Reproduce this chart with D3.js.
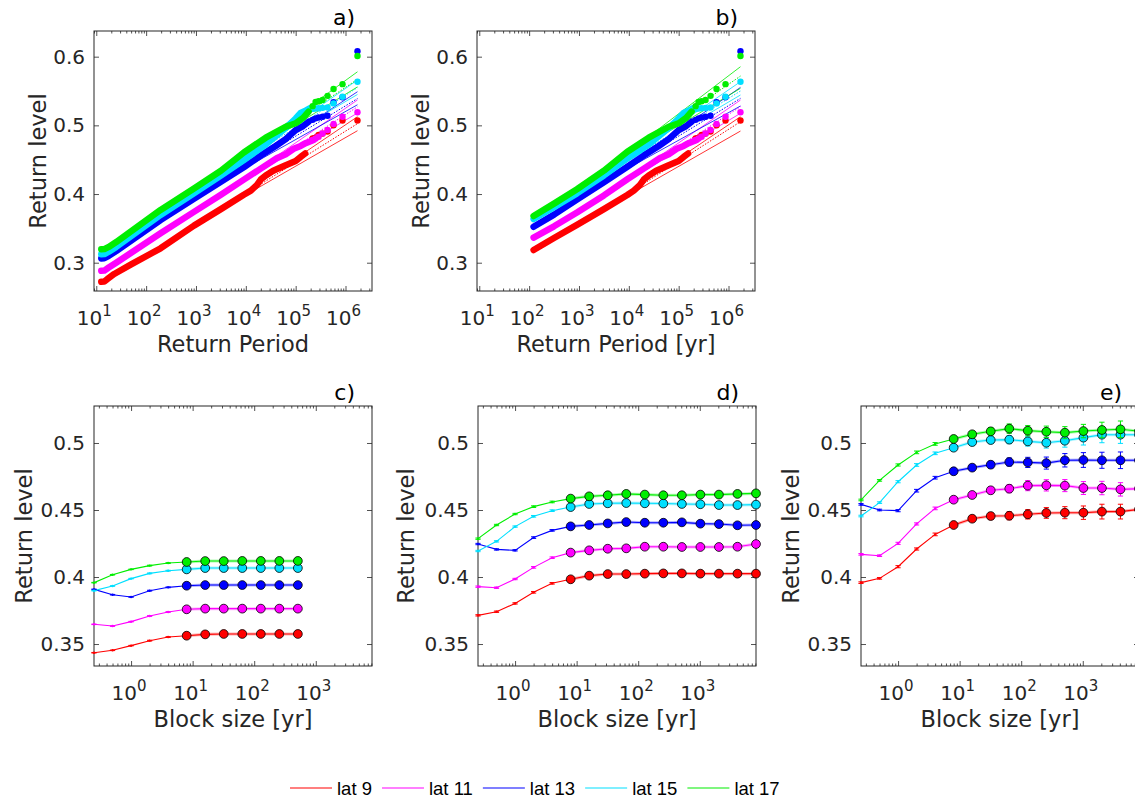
<!DOCTYPE html>
<html><head><meta charset="utf-8">
<script src="https://cdn.jsdelivr.net/npm/d3@7"></script>
<style>body{margin:0;background:#fff}svg{display:block}</style>
</head><body>
<svg id="fig" width="1135" height="798"></svg>
<script>
// ---------------- DATA ----------------
const seriesNames = ["lat 9", "lat 11", "lat 13", "lat 15", "lat 17"];
const seriesColors = ["#ff0000", "#ff00ff", "#0000ff", "#00dfff", "#00ee00"];

// Panel a: dense empirical return levels (return period, level)
const periodsA9  = [12.6,14.5,16.6,22.9,50.1,195,912,3162,9120,12590,16600,19950,25120,35480,63100,100000,125900,154900];
const levelsA9   = [0.2723,0.2725,0.2760,0.2836,0.2975,0.3210,0.3540,0.3780,0.3990,0.4050,0.4130,0.4210,0.4270,0.4340,0.4420,0.4480,0.4540,0.4590];
const periodsA11 = [12.6,14.5,17.8,25.1,195,912,3162,9120,19950,41690,63100,91200,125900,158500,229100];
const levelsA11  = [0.2883,0.2885,0.2930,0.3000,0.3428,0.3740,0.3990,0.4210,0.4370,0.4520,0.4580,0.4660,0.4700,0.4740,0.4786];
const periodsA13 = [12.6,14.5,17.8,25.1,195,912,3162,9120,19950,39810,63100,100000,141250,182000];
const levelsA13  = [0.3063,0.3065,0.3100,0.3170,0.3622,0.3930,0.4180,0.4390,0.4560,0.4700,0.4800,0.4930,0.4990,0.5053];
const periodsA15 = [12.6,14.5,17.8,25.1,195,912,3162,9120,25120,63100,100000,125900,158500,195000];
const levelsA15  = [0.3122,0.3125,0.3160,0.3230,0.3695,0.4010,0.4270,0.4496,0.4720,0.4960,0.5100,0.5180,0.5215,0.5250];
const periodsA17 = [12.6,14.5,17.8,25.1,195,912,3162,9120,25120,63100,100000,141250,182000];
const levelsA17  = [0.3195,0.3198,0.3230,0.3300,0.3768,0.4080,0.4340,0.4605,0.4820,0.4980,0.5030,0.5110,0.5200];

// Panel b: dense empirical return levels
const periodsB9  = [123,316,912,3162,9333,12590,16600,19950,25120,35480,63100,100000,125900,154900];
const levelsB9   = [0.3185,0.3360,0.3550,0.3780,0.3986,0.4050,0.4130,0.4210,0.4270,0.4340,0.4420,0.4480,0.4540,0.4590];
const periodsB11 = [123,316,912,3162,9333,19950,41690,63100,91200,125900,158500,229100];
const levelsB11  = [0.3364,0.3530,0.3730,0.3980,0.4215,0.4370,0.4520,0.4580,0.4660,0.4700,0.4740,0.4786];
const periodsB13 = [123,316,912,3162,9333,19950,39810,63100,100000,141250,182000];
const levelsB13  = [0.3524,0.3700,0.3920,0.4170,0.4398,0.4560,0.4700,0.4800,0.4930,0.4990,0.5053];
const periodsB15 = [123,316,912,3162,9333,25120,63100,100000,125900,158500,195000];
const levelsB15  = [0.3636,0.3810,0.4010,0.4270,0.4520,0.4720,0.4960,0.5100,0.5180,0.5215,0.5250];
const periodsB17 = [123,316,912,3162,9333,25120,63100,100000,141250,182000];
const levelsB17  = [0.3680,0.3860,0.4070,0.4340,0.4617,0.4820,0.4980,0.5030,0.5110,0.5200];

// Largest events (sparse tail), same in a and b
const tailPeriods = [1738000,871000,575400,436500,346700,288400,251200,218800];
const tailLat9  = [0.507,0.507,0.500,0.491,0.488,0.486,0.482,0.481];
const tailLat11 = [0.519,0.5126,0.502,0.4932,0.4883,0.4835,0.481,0.4786];
const tailLat13 = [0.608,0.541,0.5336,0.514,0.5126,0.5115,0.5102,0.508];
const tailLat15 = [0.5636,0.5417,0.532,0.526,0.5255,0.525,0.5245,0.524];
const tailLat17 = [0.601,0.560,0.553,0.543,0.537,0.535,0.534,0.528];

// Fitted return level lines [upper, central, lower]
const fitPeriods = [3162, 1738000];
const fitStart = [0.378, 0.399, 0.418, 0.427, 0.434];
const fitEndA9  = [0.5126,0.5025,0.4922];
const fitEndA11 = [0.5370,0.5270,0.5180];
const fitEndA13 = [0.5490,0.5390,0.5300];
const fitEndA15 = [0.5660,0.5550,0.5450];
const fitEndA17 = [0.5780,0.5670,0.5560];
const fitEndB9  = [0.5126,0.5053,0.4917];
const fitEndB11 = [0.5369,0.5272,0.5175];
const fitEndB13 = [0.5553,0.5393,0.5282];
const fitEndB15 = [0.5636,0.5500,0.5442];
const fitEndB17 = [0.5854,0.5718,0.5539];

// Panels c, d, e: return level vs block size
const blockSizes = [0.25,0.5,1,2,4,8,16,32,64,128,256,512,1024,2048,4096,8192];
const cLat9  = [0.3435,0.3453,0.3488,0.3525,0.3552,0.3562,0.3572,0.3575,0.3575,0.3575,0.3575,0.3575];
const cLat11 = [0.3647,0.3634,0.3667,0.3709,0.3739,0.3759,0.3764,0.3764,0.3764,0.3764,0.3764,0.3764];
const cLat13 = [0.3908,0.3868,0.3851,0.3898,0.3923,0.3935,0.3940,0.3940,0.3940,0.3940,0.3940,0.3940];
const cLat15 = [0.3898,0.3933,0.3988,0.4027,0.4047,0.4057,0.4067,0.4067,0.4067,0.4067,0.4067,0.4067];
const cLat17 = [0.3958,0.4017,0.4057,0.4085,0.4104,0.4112,0.4119,0.4119,0.4120,0.4120,0.4120,0.4120];
const cErr   = [0.0002,0.0002,0.0002,0.0003,0.0003,0.0003,0.0003,0.0003,0.0004,0.0004,0.0004,0.0004];

const dLat9  = [0.3714,0.3741,0.3803,0.3886,0.3953,0.3983,0.4010,0.4022,0.4022,0.4025,0.4027,0.4027,0.4025,0.4025,0.4025,0.4025];
const dLat11 = [0.3928,0.3920,0.3985,0.4072,0.4144,0.4182,0.4199,0.4211,0.4214,0.4226,0.4226,0.4224,0.4224,0.4224,0.4226,0.4246];
const dLat13 = [0.4246,0.4206,0.4199,0.4294,0.4348,0.4378,0.4388,0.4400,0.4410,0.4405,0.4405,0.4408,0.4398,0.4395,0.4386,0.4388];
const dLat15 = [0.4194,0.4266,0.4376,0.4453,0.4495,0.4522,0.4545,0.4550,0.4552,0.4550,0.4548,0.4545,0.4543,0.4537,0.4537,0.4540];
const dLat17 = [0.4286,0.4388,0.4470,0.4525,0.4560,0.4585,0.4602,0.4610,0.4620,0.4615,0.4610,0.4610,0.4615,0.4615,0.4620,0.4624];
const dErr   = [0.0005,0.0005,0.0005,0.0006,0.0006,0.0007,0.0008,0.0009,0.0010,0.0011,0.0012,0.0013,0.0014,0.0015,0.0016,0.0017];

const eLat9  = [0.3958,0.3990,0.4077,0.4209,0.4318,0.4388,0.4435,0.4455,0.4457,0.4468,0.4478,0.4480,0.4480,0.4488,0.4488,0.4505];
const eLat11 = [0.4169,0.4159,0.4251,0.4396,0.4512,0.4577,0.4612,0.4647,0.4659,0.4682,0.4684,0.4682,0.4664,0.4664,0.4654,0.4659];
const eLat13 = [0.4542,0.4500,0.4495,0.4644,0.4741,0.4789,0.4816,0.4838,0.4858,0.4855,0.4850,0.4871,0.4873,0.4871,0.4871,0.4871];
const eLat15 = [0.4455,0.4555,0.4711,0.4836,0.4923,0.4965,0.5007,0.5022,0.5025,0.5012,0.5002,0.5017,0.5040,0.5062,0.5062,0.5062];
const eLat17 = [0.4575,0.4721,0.4836,0.4930,0.4993,0.5030,0.5065,0.5087,0.5107,0.5092,0.5084,0.5077,0.5089,0.5097,0.5102,0.5089];
const eErr9  = [0.0006,0.0006,0.0008,0.0008,0.0010,0.0012,0.0018,0.0025,0.0030,0.0035,0.0040,0.0045,0.0050,0.0055,0.0055,0.0060];
const eErr11 = [0.0006,0.0006,0.0008,0.0008,0.0010,0.0012,0.0018,0.0025,0.0030,0.0038,0.0042,0.0045,0.0048,0.0050,0.0050,0.0052];
const eErr13 = [0.0006,0.0006,0.0008,0.0010,0.0010,0.0012,0.0018,0.0025,0.0030,0.0038,0.0045,0.0050,0.0055,0.0060,0.0062,0.0065];
const eErr15 = [0.0006,0.0006,0.0008,0.0010,0.0010,0.0012,0.0018,0.0025,0.0030,0.0035,0.0040,0.0048,0.0055,0.0060,0.0065,0.0070];
const eErr17 = [0.0006,0.0006,0.0008,0.0010,0.0010,0.0012,0.0018,0.0028,0.0035,0.0038,0.0042,0.0045,0.0050,0.0058,0.0062,0.0065];

const circleFromBlock = 8; // circles drawn for block size >= 8 yr

const xTicksPeriod = [1e1,1e2,1e3,1e4,1e5,1e6];
const xTicksBlock = [1e0,1e1,1e2,1e3];
const yTicksTop = [0.3,0.4,0.5,0.6];
const yTicksBottom = [0.35,0.4,0.45,0.5];

// ---------------- DRAWING ----------------
const svg = d3.select("#fig");
const FONT = "DejaVu Sans";
const INK = "#262626";
const TICK_FS = 20, EXP_FS = 15, TITLE_FS = 22.5;

function makePanel(cfg){
  const x = d3.scaleLog().domain(cfg.xDomain).range([cfg.x0, cfg.x1]);
  const y = d3.scaleLinear().domain(cfg.yDomain).range([cfg.y1, cfg.y0]);
  const g = svg.append("g");
  const cid = "clip-" + cfg.name;
  svg.append("clipPath").attr("id", cid).append("rect")
    .attr("x", cfg.x0).attr("y", cfg.y0).attr("width", cfg.x1 - cfg.x0).attr("height", cfg.y1 - cfg.y0);
  const ax = g.append("g").attr("color", INK);
  ax.append("rect").attr("x", cfg.x0).attr("y", cfg.y0).attr("width", cfg.x1 - cfg.x0)
    .attr("height", cfg.y1 - cfg.y0).attr("fill", "none").attr("stroke", INK).attr("stroke-width", 1);
  const majors = cfg.xTicks;
  const isMajor = v => majors.some(m => Math.abs(Math.log10(v) - Math.log10(m)) < 1e-6);
  const minors = x.ticks().filter(v => !isMajor(v));
  const addAxis = (axis, tr) => {
    const a = ax.append("g").attr("transform", tr).call(axis);
    a.select(".domain").remove();
    a.selectAll("line").attr("stroke-width", 0.8);
    return a;
  };
  addAxis(d3.axisBottom(x).tickValues(majors).tickSize(-5).tickFormat(""), `translate(0,${cfg.y1})`);
  addAxis(d3.axisBottom(x).tickValues(minors).tickSize(-2.5).tickFormat(""), `translate(0,${cfg.y1})`);
  addAxis(d3.axisTop(x).tickValues(majors).tickSize(-5).tickFormat(""), `translate(0,${cfg.y0})`);
  addAxis(d3.axisTop(x).tickValues(minors).tickSize(-2.5).tickFormat(""), `translate(0,${cfg.y0})`);
  const yl = addAxis(d3.axisLeft(y).tickValues(cfg.yTicks).tickSize(-5).tickPadding(9)
      .tickFormat(v => String(+v.toFixed(2))), `translate(${cfg.x0},0)`);
  yl.attr("font-family", FONT).attr("font-size", TICK_FS);
  yl.selectAll("text").attr("fill", INK);
  addAxis(d3.axisRight(y).tickValues(cfg.yTicks).tickSize(-5).tickFormat(""), `translate(${cfg.x1},0)`);
  majors.forEach(m => {
    const t = ax.append("text").attr("x", x(m) - 2).attr("y", cfg.y1 + 34)
      .attr("text-anchor", "middle").attr("font-family", FONT).attr("font-size", TICK_FS).attr("fill", INK);
    t.append("tspan").text("10");
    t.append("tspan").attr("dy", -9).attr("font-size", EXP_FS).text(String(Math.round(Math.log10(m))));
  });
  g.append("text").attr("x", (cfg.x0 + cfg.x1) / 2).attr("y", cfg.y1 + 61).attr("text-anchor", "middle")
    .attr("font-family", FONT).attr("font-size", TITLE_FS).attr("fill", INK).text(cfg.xTitle);
  g.append("text").attr("transform", `translate(${cfg.yTitleX},${(cfg.y0 + cfg.y1) / 2}) rotate(-90)`)
    .attr("text-anchor", "middle").attr("font-family", FONT).attr("font-size", TITLE_FS).attr("fill", INK).text("Return level");
  g.append("text").attr("x", cfg.x1 - 17).attr("y", cfg.y0 - 6).attr("text-anchor", "end")
    .attr("font-family", FONT).attr("font-size", 22).attr("fill", "#000").text(cfg.label);
  const plot = g.append("g").attr("clip-path", `url(#${cid})`);
  const marks = g.append("g");
  return {x, y, plot, marks};
}

function drawReturnPanel(p, bands, tails, fitEnds){
  const line = d3.line().x(d => p.x(d[0])).y(d => p.y(d[1]));
  fitEnds.forEach((ends, s) => {
    ends.forEach((endVal, j) => {
      p.plot.append("path")
        .attr("d", line([[fitPeriods[0], fitStart[s]], [fitPeriods[1], endVal]]))
        .attr("fill", "none").attr("stroke", seriesColors[s])
        .attr("stroke-width", j === 1 ? 1 : 0.8)
        .attr("stroke-dasharray", j === 1 ? "1.5,1.5" : null);
    });
  });
  bands.forEach((b, s) => {
    p.plot.append("path").attr("d", line(d3.zip(b[0], b[1])))
      .attr("fill", "none").attr("stroke", seriesColors[s]).attr("stroke-width", 6.5)
      .attr("stroke-linecap", "round").attr("stroke-linejoin", "round");
    p.plot.selectAll(null).data(d3.zip(tailPeriods, tails[s])).enter().append("circle")
      .attr("cx", d => p.x(d[0])).attr("cy", d => p.y(d[1])).attr("r", 3.2)
      .attr("fill", seriesColors[s]);
  });
}

function drawBlockPanel(p, vals, errs){
  const line = d3.line().x(d => p.x(d[0])).y(d => p.y(d[1]));
  vals.forEach((v, s) => {
    const col = seriesColors[s];
    const pts = v.map((val, i) => [blockSizes[i], val, errs[s][i]]);
    const big = pts.filter(d => d[0] >= circleFromBlock);
    p.plot.append("path").attr("d", line(big)).attr("fill", "none").attr("stroke", col)
      .attr("stroke-width", 3).attr("stroke-opacity", 0.3);
    p.plot.append("path").attr("d", line(pts)).attr("fill", "none").attr("stroke", col).attr("stroke-width", 1.1);
    const eb = p.marks.append("g").attr("stroke", col).attr("stroke-width", 1);
    pts.forEach(d => {
      const cx = p.x(d[0]), yt = p.y(d[1] + d[2]), yb = p.y(d[1] - d[2]);
      if (cx > 1140) return;
      eb.append("line").attr("x1", cx).attr("x2", cx).attr("y1", yt).attr("y2", yb);
      eb.append("line").attr("x1", cx - 2.6).attr("x2", cx + 2.6).attr("y1", yt).attr("y2", yt);
      eb.append("line").attr("x1", cx - 2.6).attr("x2", cx + 2.6).attr("y1", yb).attr("y2", yb);
    });
    p.marks.selectAll(null).data(pts.filter(d => d[0] < circleFromBlock)).enter().append("circle")
      .attr("cx", d => p.x(d[0])).attr("cy", d => p.y(d[1])).attr("r", 1.2).attr("fill", col);
    p.marks.selectAll(null).data(big).enter().append("circle")
      .attr("cx", d => p.x(d[0])).attr("cy", d => p.y(d[1])).attr("r", 4.4)
      .attr("fill", col).attr("stroke", "#000").attr("stroke-width", 0.8);
  });
}

const topY = [0.2588, 0.6374], botY = [0.3336, 0.5276];
const pA = makePanel({name:"a", x0:94, x1:372, y0:31, y1:291, xDomain:[9, 3.4e6], yDomain:topY,
  xTicks:xTicksPeriod, yTicks:yTicksTop, xTitle:"Return Period", yTitleX:46, label:"a)"});
const pB = makePanel({name:"b", x0:477, x1:755, y0:31, y1:291, xDomain:[9, 3.4e6], yDomain:topY,
  xTicks:xTicksPeriod, yTicks:yTicksTop, xTitle:"Return Period [yr]", yTitleX:429, label:"b)"});
const pC = makePanel({name:"c", x0:94, x1:372, y0:406, y1:666, xDomain:[0.25, 8192], yDomain:botY,
  xTicks:xTicksBlock, yTicks:yTicksBottom, xTitle:"Block size [yr]", yTitleX:32, label:"c)"});
const pD = makePanel({name:"d", x0:478, x1:756, y0:406, y1:666, xDomain:[0.25, 8192], yDomain:botY,
  xTicks:xTicksBlock, yTicks:yTicksBottom, xTitle:"Block size [yr]", yTitleX:414, label:"d)"});
const pE = makePanel({name:"e", x0:861, x1:1139, y0:406, y1:666, xDomain:[0.25, 8192], yDomain:botY,
  xTicks:xTicksBlock, yTicks:yTicksBottom, xTitle:"Block size [yr]", yTitleX:799, label:"e)"});

const tails = [tailLat9, tailLat11, tailLat13, tailLat15, tailLat17];
drawReturnPanel(pA,
  [[periodsA9,levelsA9],[periodsA11,levelsA11],[periodsA13,levelsA13],[periodsA15,levelsA15],[periodsA17,levelsA17]],
  tails, [fitEndA9, fitEndA11, fitEndA13, fitEndA15, fitEndA17]);
drawReturnPanel(pB,
  [[periodsB9,levelsB9],[periodsB11,levelsB11],[periodsB13,levelsB13],[periodsB15,levelsB15],[periodsB17,levelsB17]],
  tails, [fitEndB9, fitEndB11, fitEndB13, fitEndB15, fitEndB17]);
drawBlockPanel(pC, [cLat9, cLat11, cLat13, cLat15, cLat17], [cErr, cErr, cErr, cErr, cErr]);
drawBlockPanel(pD, [dLat9, dLat11, dLat13, dLat15, dLat17], [dErr, dErr, dErr, dErr, dErr]);
drawBlockPanel(pE, [eLat9, eLat11, eLat13, eLat15, eLat17], [eErr9, eErr11, eErr13, eErr15, eErr17]);

// legend
const leg = svg.append("g");
let lx = 290;
seriesNames.forEach((name, s) => {
  leg.append("line").attr("x1", lx).attr("x2", lx + 42).attr("y1", 788).attr("y2", 788)
    .attr("stroke", seriesColors[s]).attr("stroke-width", 1.2);
  const t = leg.append("text").attr("x", lx + 47).attr("y", 795)
    .attr("font-family", "Liberation Sans").attr("font-size", 18.5).attr("fill", "#000").text(name);
  lx = lx + 47 + t.node().getComputedTextLength() + 10;
});
</script>
</body></html>
